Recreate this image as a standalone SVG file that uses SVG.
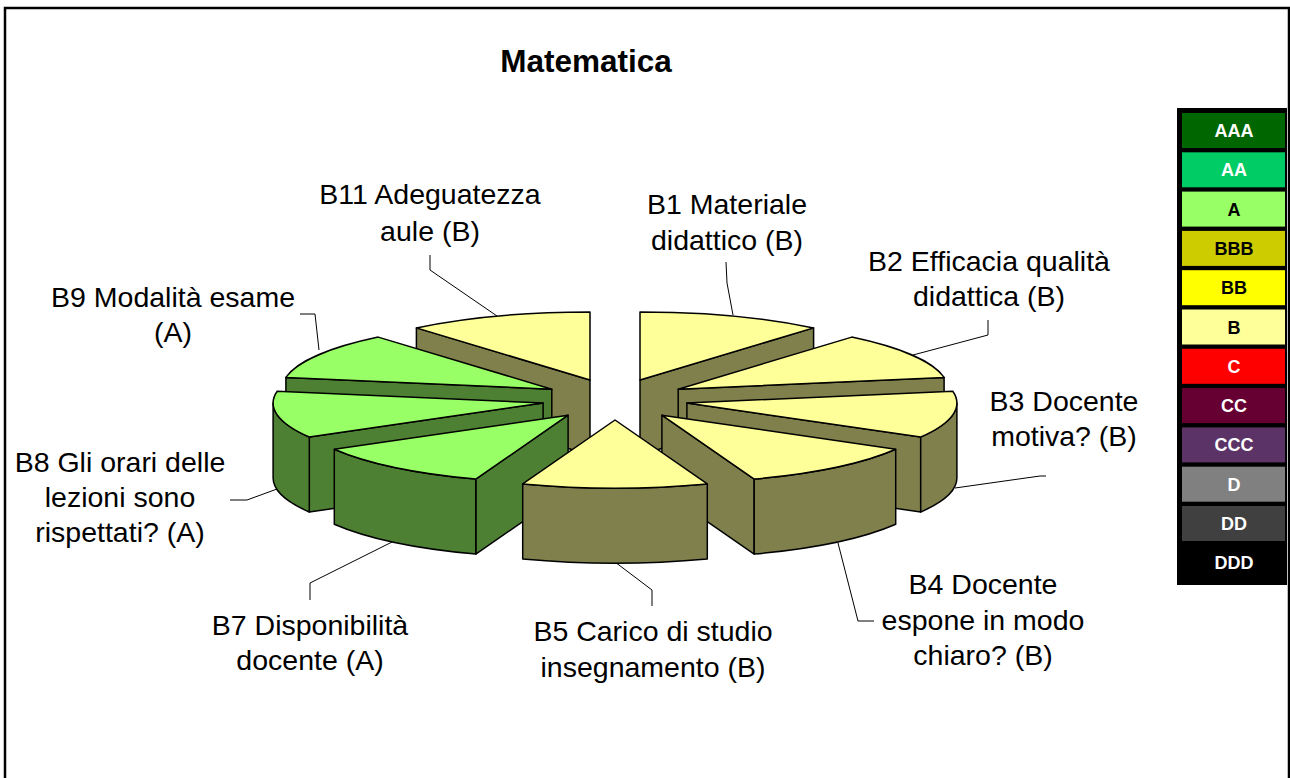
<svg xmlns="http://www.w3.org/2000/svg" width="1290" height="778" viewBox="0 0 1290 778">
<style>
.top{stroke:#000;stroke-width:1.5;stroke-linejoin:round}
.b{fill:#FFFF99}
.bw{fill:#80804D}
.a{fill:#99FF66}
.aw{fill:#4D8033}
.wall{stroke:#000;stroke-width:1.5;stroke-linejoin:round}
.lbl{font-family:"Liberation Sans",Arial,sans-serif;font-size:28.5px;fill:#000;text-anchor:middle}
.lead{fill:none;stroke:#000;stroke-width:1}
.lg{font-family:"Liberation Sans",Arial,sans-serif;font-size:18px;font-weight:bold;text-anchor:middle}
</style>
<rect x="5" y="8" width="1284" height="800" fill="#fff" stroke="#000" stroke-width="2.5"/>
<text x="586" y="72" font-family="Liberation Sans, Arial, sans-serif" font-size="31.5" font-weight="bold" text-anchor="middle">Matematica</text>

<g id="connectors">
<polyline class="lead" points="430,255 430,270 497,316"/>
<polyline class="lead" points="726,262 727,283 733,315"/>
<polyline class="lead" points="988,320 988,335 913,355"/>
<polyline class="lead" points="955,488 1040,476 1046,476"/>
<polyline class="lead" points="838,543 858,621 874,621"/>
<polyline class="lead" points="615,562 652,590 652,606"/>
<polyline class="lead" points="392,542 310,583 310,600"/>
<polyline class="lead" points="277,489 247,500 230,500"/>
<polyline class="lead" points="300,314 315,314 319,350"/>
</g>

<g id="B1">
<path class="wall bw" d="M640,380 L813.6,327.9 L813.6,402.9 L640,455 Z"/>
<path class="top b" d="M640,380 L640,312 A270,68 0 0,1 813.6,327.9 Z"/>
</g>
<g id="B11">
<path class="wall bw" d="M590,380 L416.4,327.9 L416.4,402.9 L590,455 Z"/>
<path class="top b" d="M590,380 L416.4,327.9 A270,68 0 0,1 590,312 Z"/>
</g>
<g id="B2">
<path class="wall bw" d="M678.2,389.2 L944.1,377.4 L944.1,452.4 L678.2,464.2 Z"/>
<path class="top b" d="M678.2,389.2 L851.8,337.1 A270,68 0 0,1 944.1,377.4 Z"/>
</g>
<g id="B9">
<path class="wall aw" d="M551.8,389.2 L285.9,377.4 L285.9,452.4 L551.8,464.2 Z"/>
<path class="top a" d="M551.8,389.2 L285.9,377.4 A270,68 0 0,1 378.2,337.1 Z"/>
</g>
<g id="B3">
<path class="wall bw" d="M686.9,403 L920.7,437 L920.7,512 L686.9,478 Z"/>
<path class="wall bw" d="M956.9,403 A270,68 0 0,1 920.7,437 L920.7,512 A270,68 0 0,0 956.9,478 Z"/>
<path class="top b" d="M686.9,403 L952.8,391.2 A270,68 0 0,1 920.7,437 Z"/>
</g>
<g id="B8">
<path class="wall aw" d="M543.1,403 L309.3,437 L309.3,512 L543.1,478 Z"/>
<path class="wall aw" d="M309.3,437 A270,68 0 0,1 273.1,403 L273.1,478 A270,68 0 0,0 309.3,512 Z"/>
<path class="top a" d="M543.1,403 L309.3,437 A270,68 0 0,1 277.2,391.2 Z"/>
</g>
<g id="B4">
<path class="wall bw" d="M661.9,415.2 L754.2,479.1 L754.2,554.1 L661.9,490.2 Z"/>
<path class="wall bw" d="M895.7,449.2 A270,68 0 0,1 754.2,479.1 L754.2,554.1 A270,68 0 0,0 895.7,524.2 Z"/>
<path class="top b" d="M661.9,415.2 L895.7,449.2 A270,68 0 0,1 754.2,479.1 Z"/>
</g>
<g id="B7">
<path class="wall aw" d="M568.1,415.2 L475.8,479.1 L475.8,554.1 L568.1,490.2 Z"/>
<path class="wall aw" d="M475.8,479.1 A270,68 0 0,1 334.3,449.2 L334.3,524.2 A270,68 0 0,0 475.8,554.1 Z"/>
<path class="top a" d="M568.1,415.2 L475.8,479.1 A270,68 0 0,1 334.3,449.2 Z"/>
</g>
<g id="B5">
<path class="wall bw" d="M707.3,483.9 A270,68 0 0,1 522.7,483.9 L522.7,558.9 A270,68 0 0,0 707.3,558.9 Z"/>
<path class="top b" d="M615,420 L707.3,483.9 A270,68 0 0,1 522.7,483.9 Z"/>
</g>

<g id="labels">
<text class="lbl" x="430" y="204">B11 Adeguatezza</text>
<text class="lbl" x="430" y="241">aule (B)</text>
<text class="lbl" x="727" y="214">B1 Materiale</text>
<text class="lbl" x="727" y="250">didattico (B)</text>
<text class="lbl" x="989" y="271">B2 Efficacia qualità</text>
<text class="lbl" x="989" y="306">didattica (B)</text>
<text class="lbl" x="1064" y="411">B3 Docente</text>
<text class="lbl" x="1064" y="446">motiva? (B)</text>
<text class="lbl" x="983" y="594">B4 Docente</text>
<text class="lbl" x="983" y="630">espone in modo</text>
<text class="lbl" x="983" y="665">chiaro? (B)</text>
<text class="lbl" x="653" y="641">B5 Carico di studio</text>
<text class="lbl" x="653" y="677">insegnamento (B)</text>
<text class="lbl" x="310" y="635">B7 Disponibilità</text>
<text class="lbl" x="310" y="670">docente (A)</text>
<text class="lbl" x="120" y="472">B8 Gli orari delle</text>
<text class="lbl" x="120" y="507">lezioni sono</text>
<text class="lbl" x="120" y="542">rispettati? (A)</text>
<text class="lbl" x="173" y="307">B9 Modalità esame</text>
<text class="lbl" x="173" y="342">(A)</text>
</g>

<g id="legend">
<rect x="1177" y="108" width="110" height="477" fill="#000"/>
<rect x="1182" y="113" width="103" height="35" fill="#006600"/>
<text class="lg" x="1234" y="137" fill="#fff">AAA</text>
<rect x="1182" y="152.3" width="103" height="35" fill="#00CC66"/>
<text class="lg" x="1234" y="176.3" fill="#fff">AA</text>
<rect x="1182" y="191.6" width="103" height="35" fill="#99FF66"/>
<text class="lg" x="1234" y="215.6" fill="#000">A</text>
<rect x="1182" y="230.9" width="103" height="35" fill="#CCCC00"/>
<text class="lg" x="1234" y="254.9" fill="#000">BBB</text>
<rect x="1182" y="270.2" width="103" height="35" fill="#FFFF00"/>
<text class="lg" x="1234" y="294.2" fill="#000">BB</text>
<rect x="1182" y="309.5" width="103" height="35" fill="#FFFF99"/>
<text class="lg" x="1234" y="333.5" fill="#000">B</text>
<rect x="1182" y="348.8" width="103" height="35" fill="#FF0000"/>
<text class="lg" x="1234" y="372.8" fill="#fff">C</text>
<rect x="1182" y="388.1" width="103" height="35" fill="#660033"/>
<text class="lg" x="1234" y="412.1" fill="#fff">CC</text>
<rect x="1182" y="427.4" width="103" height="35" fill="#5C3366"/>
<text class="lg" x="1234" y="451.4" fill="#fff">CCC</text>
<rect x="1182" y="466.7" width="103" height="35" fill="#808080"/>
<text class="lg" x="1234" y="490.7" fill="#fff">D</text>
<rect x="1182" y="506" width="103" height="35" fill="#404040"/>
<text class="lg" x="1234" y="530" fill="#fff">DD</text>
<rect x="1182" y="545.3" width="103" height="36" fill="#000"/>
<text class="lg" x="1234" y="569.3" fill="#fff">DDD</text>
</g>
</svg>
